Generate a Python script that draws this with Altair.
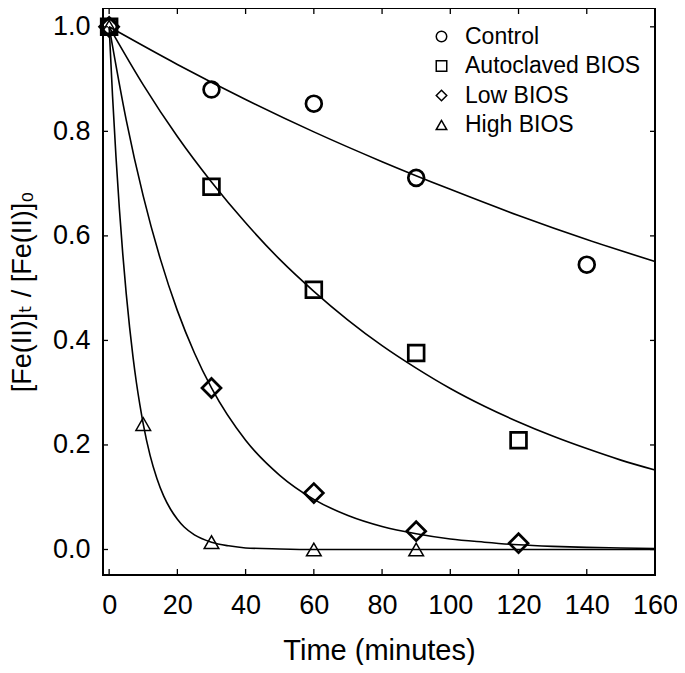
import altair as alt
import pandas as pd

# ---------------- data ----------------
series_names = ["Control", "Autoclaved BIOS", "Low BIOS", "High BIOS"]

# observed points
control_t = [0, 30, 60, 90, 140]
control_v = [1.0, 0.880, 0.853, 0.711, 0.545]
autoclaved_t = [0, 30, 60, 90, 120]
autoclaved_v = [1.0, 0.694, 0.497, 0.376, 0.209]
low_t = [0, 30, 60, 90, 120]
low_v = [1.0, 0.309, 0.108, 0.035, 0.012]
high_t = [0, 10, 30, 60, 90]
high_v = [1.0, 0.240, 0.014, 0.0, 0.0]

# fitted curves
control_curve_t = [0, 20, 40, 60, 80, 100, 120, 140, 160]
control_curve_v = [1.0, 0.928, 0.861, 0.799, 0.742, 0.689, 0.639, 0.593, 0.551]
autoclaved_curve_t = [0, 10, 20, 30, 40, 50, 60, 70, 80, 90, 100, 110, 120, 130, 140, 150, 160]
autoclaved_curve_v = [1.0, 0.889, 0.790, 0.703, 0.625, 0.555, 0.494, 0.439, 0.390,
                      0.347, 0.308, 0.274, 0.244, 0.217, 0.193, 0.171, 0.152]
low_curve_t = [0, 5, 10, 15, 20, 25, 30, 40, 50, 60, 70, 80, 90, 100, 110, 120, 130, 140, 150, 160]
low_curve_v = [1.0, 0.822, 0.676, 0.556, 0.457, 0.376, 0.309, 0.209, 0.142, 0.096,
               0.065, 0.044, 0.030, 0.020, 0.014, 0.009, 0.006, 0.004, 0.003, 0.002]
high_curve_t = [0, 1, 2, 3, 4, 5, 6, 7, 8, 9, 10, 12, 14, 16, 18, 20, 22, 25, 30, 35, 40,
                50, 60, 80, 100, 120, 140, 160]
high_curve_v = [1.0, 0.867, 0.752, 0.652, 0.565, 0.490, 0.425, 0.368, 0.319, 0.277, 0.240,
                0.180, 0.136, 0.102, 0.077, 0.058, 0.043, 0.028, 0.014, 0.007, 0.003,
                0.001, 0.0, 0.0, 0.0, 0.0, 0.0, 0.0]

x_ticks = [0, 20, 40, 60, 80, 100, 120, 140, 160]
y_ticks = [0.0, 0.2, 0.4, 0.6, 0.8, 1.0]

# ---------------- tables ----------------
obs = [(control_t, control_v), (autoclaved_t, autoclaved_v), (low_t, low_v), (high_t, high_v)]
curves = [(control_curve_t, control_curve_v), (autoclaved_curve_t, autoclaved_curve_v),
          (low_curve_t, low_curve_v), (high_curve_t, high_curve_v)]

pts = pd.DataFrame([
    {"series": s, "t": t, "v": v}
    for s, (ts, vs) in zip(series_names, obs) for t, v in zip(ts, vs)
])
crv = pd.DataFrame([
    {"series": s, "t": t, "v": v}
    for s, (ts, vs) in zip(series_names, curves) for t, v in zip(ts, vs)
])
xt = pd.DataFrame({"t": x_ticks})
yt = pd.DataFrame({"v": y_ticks})

W, H = 552, 567
FONT = "Liberation Sans, Arial, DejaVu Sans"

xscale = alt.Scale(domain=[-1.8, 160], nice=False, zero=False)
yscale = alt.Scale(domain=[-0.0488, 1.036], nice=False, zero=False)

xenc = alt.X("t:Q", scale=xscale,
             axis=alt.Axis(values=x_ticks, title="Time (minutes)", labelPadding=17,
                           labelFlush=False, titlePadding=18, titleFontSize=29))
yenc = alt.Y("v:Q", scale=yscale,
             axis=alt.Axis(values=y_ticks, format=".1f", title="[Fe(II)]ₜ / [Fe(II)]₀",
                           labelPadding=13, labelFlush=False, titlePadding=16))

lines = alt.Chart(crv).mark_line(color="black", strokeWidth=1.6, interpolate="monotone").encode(
    x=xenc, y=yenc, detail="series:N"
)

is_low = alt.datum.series == "Low BIOS"
is_high = alt.datum.series == "High BIOS"

points = alt.Chart(pts).mark_point(filled=False, opacity=1, color="black").encode(
    x=alt.X("t:Q", scale=xscale),
    y=alt.Y("v:Q", scale=yscale),
    shape=alt.Shape("series:N",
                    scale=alt.Scale(domain=series_names,
                                    range=["circle", "square", "diamond", "triangle-up"]),
                    legend=alt.Legend(title=None, orient="none", legendX=327, legendY=17,
                                      labelFontSize=23, labelFont=FONT, labelColor="black",
                                      labelLimit=0,
                                      symbolSize=110, symbolStrokeWidth=1.5,
                                      symbolStrokeColor="black", symbolFillColor="transparent",
                                      symbolOpacity=1,
                                      labelOffset=12, rowPadding=5.5, padding=0)),
    size=alt.when(is_low).then(alt.value(360)).when(is_high).then(alt.value(215)).otherwise(alt.value(250)),
    strokeWidth=alt.when(is_high).then(alt.value(1.5)).otherwise(alt.value(2.7)),
)

tick_bottom = alt.Chart(xt).mark_rule(color="black", strokeWidth=1.3).encode(
    x=alt.X("t:Q", scale=xscale), y=alt.value(H), y2=alt.value(H - 6))
tick_top = alt.Chart(xt).mark_rule(color="black", strokeWidth=1.3).encode(
    x=alt.X("t:Q", scale=xscale), y=alt.value(0), y2=alt.value(6))
tick_left = alt.Chart(yt).mark_rule(color="black", strokeWidth=1.3).encode(
    y=alt.Y("v:Q", scale=yscale), x=alt.value(0), x2=alt.value(5))
tick_right = alt.Chart(yt).mark_rule(color="black", strokeWidth=1.3).encode(
    y=alt.Y("v:Q", scale=yscale), x=alt.value(W), x2=alt.value(W - 5))

chart = alt.layer(lines, points, tick_bottom, tick_top, tick_left, tick_right).properties(
    width=W, height=H,
    autosize=alt.AutoSizeParams(type="none"),
    padding={"left": 95, "top": 0, "right": 22, "bottom": 90},
).configure_view(
    stroke="black", strokeWidth=2
).configure_axis(
    domain=False, ticks=False, tickSize=0, grid=False,
    labelFont=FONT, labelFontSize=27, labelColor="black",
    titleFont=FONT, titleFontSize=27, titleFontWeight="normal", titleColor="black",
)

chart.save("out.html", embed_options={"renderer": "svg", "actions": False})
